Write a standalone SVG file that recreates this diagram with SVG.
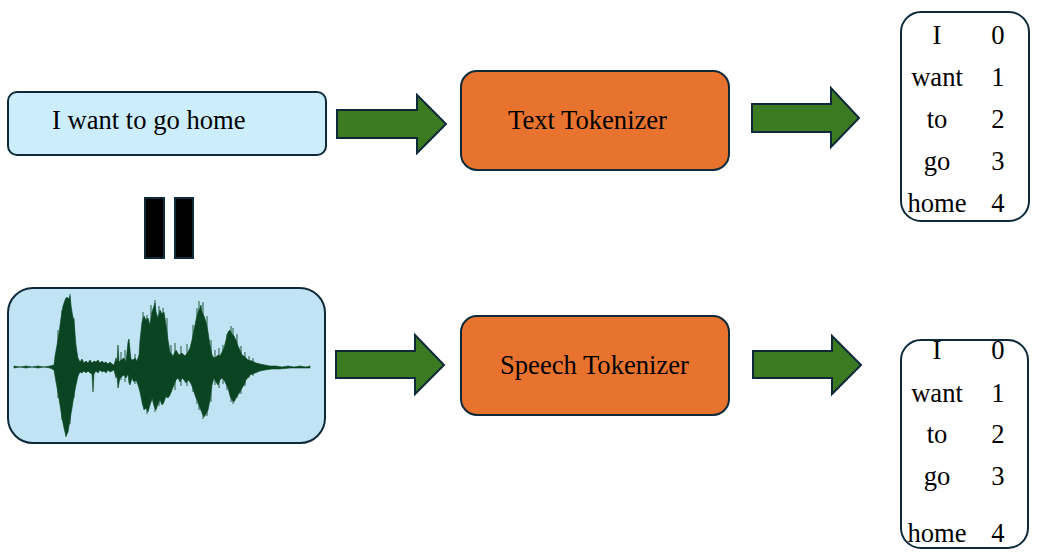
<svg xmlns="http://www.w3.org/2000/svg" width="1041" height="552" viewBox="0 0 1041 552">
<style>
.t{font-family:"Liberation Serif","Times New Roman",serif;font-size:26.6px;fill:#000}
.m{text-anchor:middle}
.box{stroke:#0E2A3A;stroke-width:2}
.arr{fill:#3C7A22;stroke:#0E2A3A;stroke-width:2;stroke-linejoin:miter}
.tok{fill:#fff;stroke:#0E2A3A;stroke-width:2}
.sp{stroke:#0B4422;stroke-width:1;opacity:0.85}
</style>
<rect width="1041" height="552" fill="#fff"/>
<g id="text-input">
<rect class="box" x="8" y="92" width="318" height="63" rx="9" fill="#CCEEFC"/>
<text class="t" x="52" y="129">I want to go home</text>
</g>
<g id="equals">
<rect x="145" y="198" width="19" height="60" fill="#000" stroke="#0E2A3A" stroke-width="2"/>
<rect x="175" y="198" width="18" height="60" fill="#000" stroke="#0E2A3A" stroke-width="2"/>
</g>
<g id="speech-input">
<rect class="box" x="8" y="288" width="317" height="155" rx="25" fill="#C1E4F4"/>
<polygon fill="#0B4422" stroke="#0B4422" stroke-width="0.6" stroke-linejoin="round" points="14,366 20,367 26,366 32,367 38,366 44,367 50,366 54,365 55,356 57,345 59,333 61,318 63,306 65,300 67,297 69,299 70,296 71,305 72,312 74,322 75,333 76,345 77,352 78,358 80,362 82,359 84,363 86,361 88,363 90,360 92,363 94,361 96,362 98,360 100,363 102,361 104,363 106,362 108,364 110,362 112,364 114,365 116,358 117,362 118,345 119,362 121,360 124,358 126,362 128,342 129,339 130,350 131,359 133,360 135,358 137,361 139,355 140,340 142,322 144,316 146,320 148,318 150,325 152,312 154,306 155,303 156,312 158,318 160,310 162,314 164,312 166,325 168,340 170,352 173,356 176,350 179,355 182,353 185,356 188,352 190,348 192,340 194,330 196,320 198,312 200,308 201,305 202,312 204,316 206,322 208,332 210,345 212,355 214,358 216,357 218,355 220,356 222,352 224,348 226,340 228,332 230,330 232,334 234,336 236,340 238,346 240,350 242,355 244,356 246,358 248,360 252,361 256,363 260,364 265,365 270,366 276,366 282,367 288,366 294,367 300,366 306,367 310,366 310,368 300,368 290,368 280,369 272,369 265,370 260,371 255,373 250,375 246,380 244,385 242,388 240,392 238,395 236,398 234,402 232,400 230,396 228,388 226,384 224,380 222,378 220,380 218,385 216,382 214,378 212,385 210,400 208,410 206,414 204,417 202,413 200,408 198,402 196,398 194,392 192,386 190,382 188,380 186,383 184,380 182,378 180,382 178,378 176,380 174,385 172,390 170,395 168,398 166,396 164,402 162,405 160,400 158,404 156,410 154,406 152,398 150,405 148,412 146,408 144,410 142,402 140,392 138,385 136,380 134,382 132,378 130,385 129,383 128,374 126,378 124,375 120,378 118,388 117,376 116,378 114,370 112,371 110,372 108,370 106,373 104,371 102,372 100,370 98,373 96,371 94,374 93,392 92,374 90,373 88,371 86,373 84,371 82,373 80,372 78,376 76,385 74,395 72,408 70,420 68,432 66,436 64,428 62,418 60,405 58,393 56,382 54,370 50,368 44,367 38,368 32,367 26,368 20,367 14,368"/>
<path class="sp" d="M143,312V405M147,315V414M151,305V402M155,300V412M159,306V406M163,308V404M167,318V398M171,345V392M175,343V390M181,346V386M187,344V386M193,325V392M197,308V404M199,301V410M203,302V419M207,316V416M211,340V402M215,350V385M219,348V388M223,345V384M227,334V390M231,326V402M233,328V404M237,334V398M241,346V394M245,352V386M249,356V378M253,358V376M58,330V398M62,310V420M66,298V437M70,294V424M74,318V398M121,352V380M125,350V382M135,354V384"/>
</g>
<g id="text-tokenizer">
<rect class="box" x="461" y="71" width="268" height="99" rx="16" fill="#E8732F"/>
<text class="t" x="508" y="129">Text Tokenizer</text>
</g>
<g id="speech-tokenizer">
<rect class="box" x="461" y="316" width="268" height="99" rx="16" fill="#E8732F"/>
<text class="t" x="500" y="374">Speech Tokenizer</text>
</g>
<g id="text-tokens">
<rect class="tok" x="901" y="12" width="128" height="209" rx="20"/>
<text class="t m" x="937" y="44">I</text><text class="t m" x="998" y="44">0</text>
<text class="t m" x="937" y="86">want</text><text class="t m" x="998" y="86">1</text>
<text class="t m" x="937" y="128">to</text><text class="t m" x="998" y="128">2</text>
<text class="t m" x="937" y="170">go</text><text class="t m" x="998" y="170">3</text>
<text class="t m" x="937" y="212">home</text><text class="t m" x="998" y="212">4</text>
</g>
<g id="speech-tokens">
<rect class="tok" x="901" y="340" width="127" height="208" rx="20"/>
<text class="t m" x="937" y="359">I</text><text class="t m" x="998" y="359">0</text>
<text class="t m" x="937" y="402">want</text><text class="t m" x="998" y="402">1</text>
<text class="t m" x="937" y="443">to</text><text class="t m" x="998" y="443">2</text>
<text class="t m" x="937" y="485">go</text><text class="t m" x="998" y="485">3</text>
<text class="t m" x="937" y="542">home</text><text class="t m" x="998" y="542">4</text>
</g>
<g id="connectors">
<polygon class="arr" points="337,110 417,110 417,95 446,124 417,153 417,138 337,138"/>
<polygon class="arr" points="752,104 831,104 831,88 859,118 831,147 831,132 752,132"/>
<polygon class="arr" points="336,351 415,351 415,335 444,365 415,394 415,378 336,378"/>
<polygon class="arr" points="753,351 832,351 832,336 861,365 832,394 832,378 753,378"/>
</g>
</svg>
